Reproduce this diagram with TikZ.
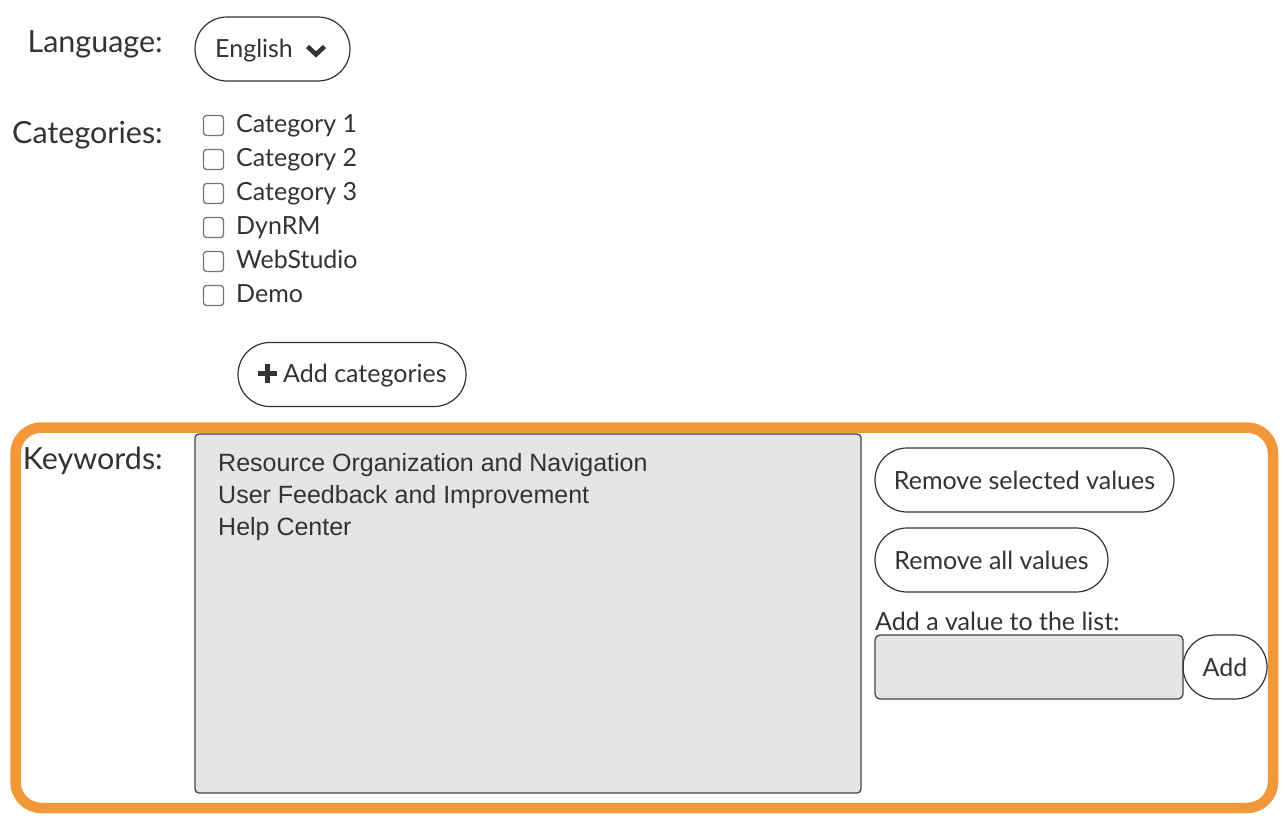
\documentclass[tikz,border=0pt]{standalone}
\usepackage{fontspec}
\setmainfont{Lato}
\newfontfamily\listfont{Liberation Sans}
\definecolor{ink}{HTML}{333333}
\definecolor{frame}{HTML}{F0983A}
\definecolor{boxgray}{HTML}{E5E5E5}
\definecolor{boxedge}{HTML}{444444}
\definecolor{cbgray}{HTML}{767676}
\tikzset{
	pill/.style={draw=ink,line width=1.2pt,rounded corners=32pt,minimum height=64pt,text height=18pt,text depth=0pt},
	fieldlabel/.style={anchor=base east,font=\fontsize{30.5pt}{36pt}\selectfont},
	checkbox/.style={draw=cbgray,line width=1.3pt,rounded corners=3pt,minimum size=20pt},
	field/.style={draw=boxedge,fill=boxgray,line width=1.3pt,rounded corners=5pt}
}
\begin{document}
\begin{tikzpicture}[x=1pt,y=-1pt,every node/.append style={inner sep=0pt,text=ink,font=\fontsize{25pt}{30pt}\selectfont}]
\useasboundingbox (0,0) rectangle (1285,822);
\fill[white] (0,0) rectangle (1285,822);
\node[fieldlabel] (langlbl) at (163,52) {Language:};
\node[fieldlabel] (catlbl) at (163,143) {Categories:};
\node[fieldlabel] (kwlbl) at (163,469) {Keywords:};
% language select
\node[pill,minimum width=155pt] (langsel) at (272.5,49) {};
\node[anchor=base west] (langval) at (215,57.5) {English};
\draw[ink,line width=4.5pt] (307.5,46.5) -- (316,54.5) -- (324.5,46.5);
% categories
\foreach \lab [count=\i from 0] in {Category 1,Category 2,Category 3,DynRM,WebStudio,Demo} {
	\node[checkbox] (cb\i) at (213.5,{125.5+34*\i}) {};
	\node[anchor=base west] (cat\i) at (236,{132+34*\i}) {\lab};
}
\node[pill,minimum width=228pt] (addcat) at (352,374.5) {};
\node[anchor=base west] (addcattxt) at (283,382) {Add categories};
\draw[ink,line width=5pt] (258,373.5) -- (277,373.5) (267.5,364) -- (267.5,383);
% keywords
\draw[frame,line width=10.5pt,rounded corners=26pt] (15.5,427.5) rectangle (1273,808);
\node[field,rounded corners=4pt,minimum width=666pt,minimum height=359pt] (kwlist) at (528,613.5) {};
\foreach \kw [count=\i from 0] in {Resource Organization and Navigation,User Feedback and Improvement,Help Center} {
	\node[anchor=base west,font=\listfont\fontsize{25pt}{30pt}\selectfont] (kw\i) at (218,{471+32*\i}) {\kw};
}
\node[pill,minimum width=299pt] (rmsel) at (1024.5,480) {Remove selected values};
\node[pill,minimum width=233pt] (rmall) at (991.5,560) {Remove all values};
\node[anchor=base west] (addlbl) at (875,630) {Add a value to the list:};
\node[field,minimum width=308pt,minimum height=64pt] (newval) at (1029,667) {};
\node[pill,minimum width=84pt] (addbtn) at (1225,667) {Add};
\end{tikzpicture}
\end{document}
